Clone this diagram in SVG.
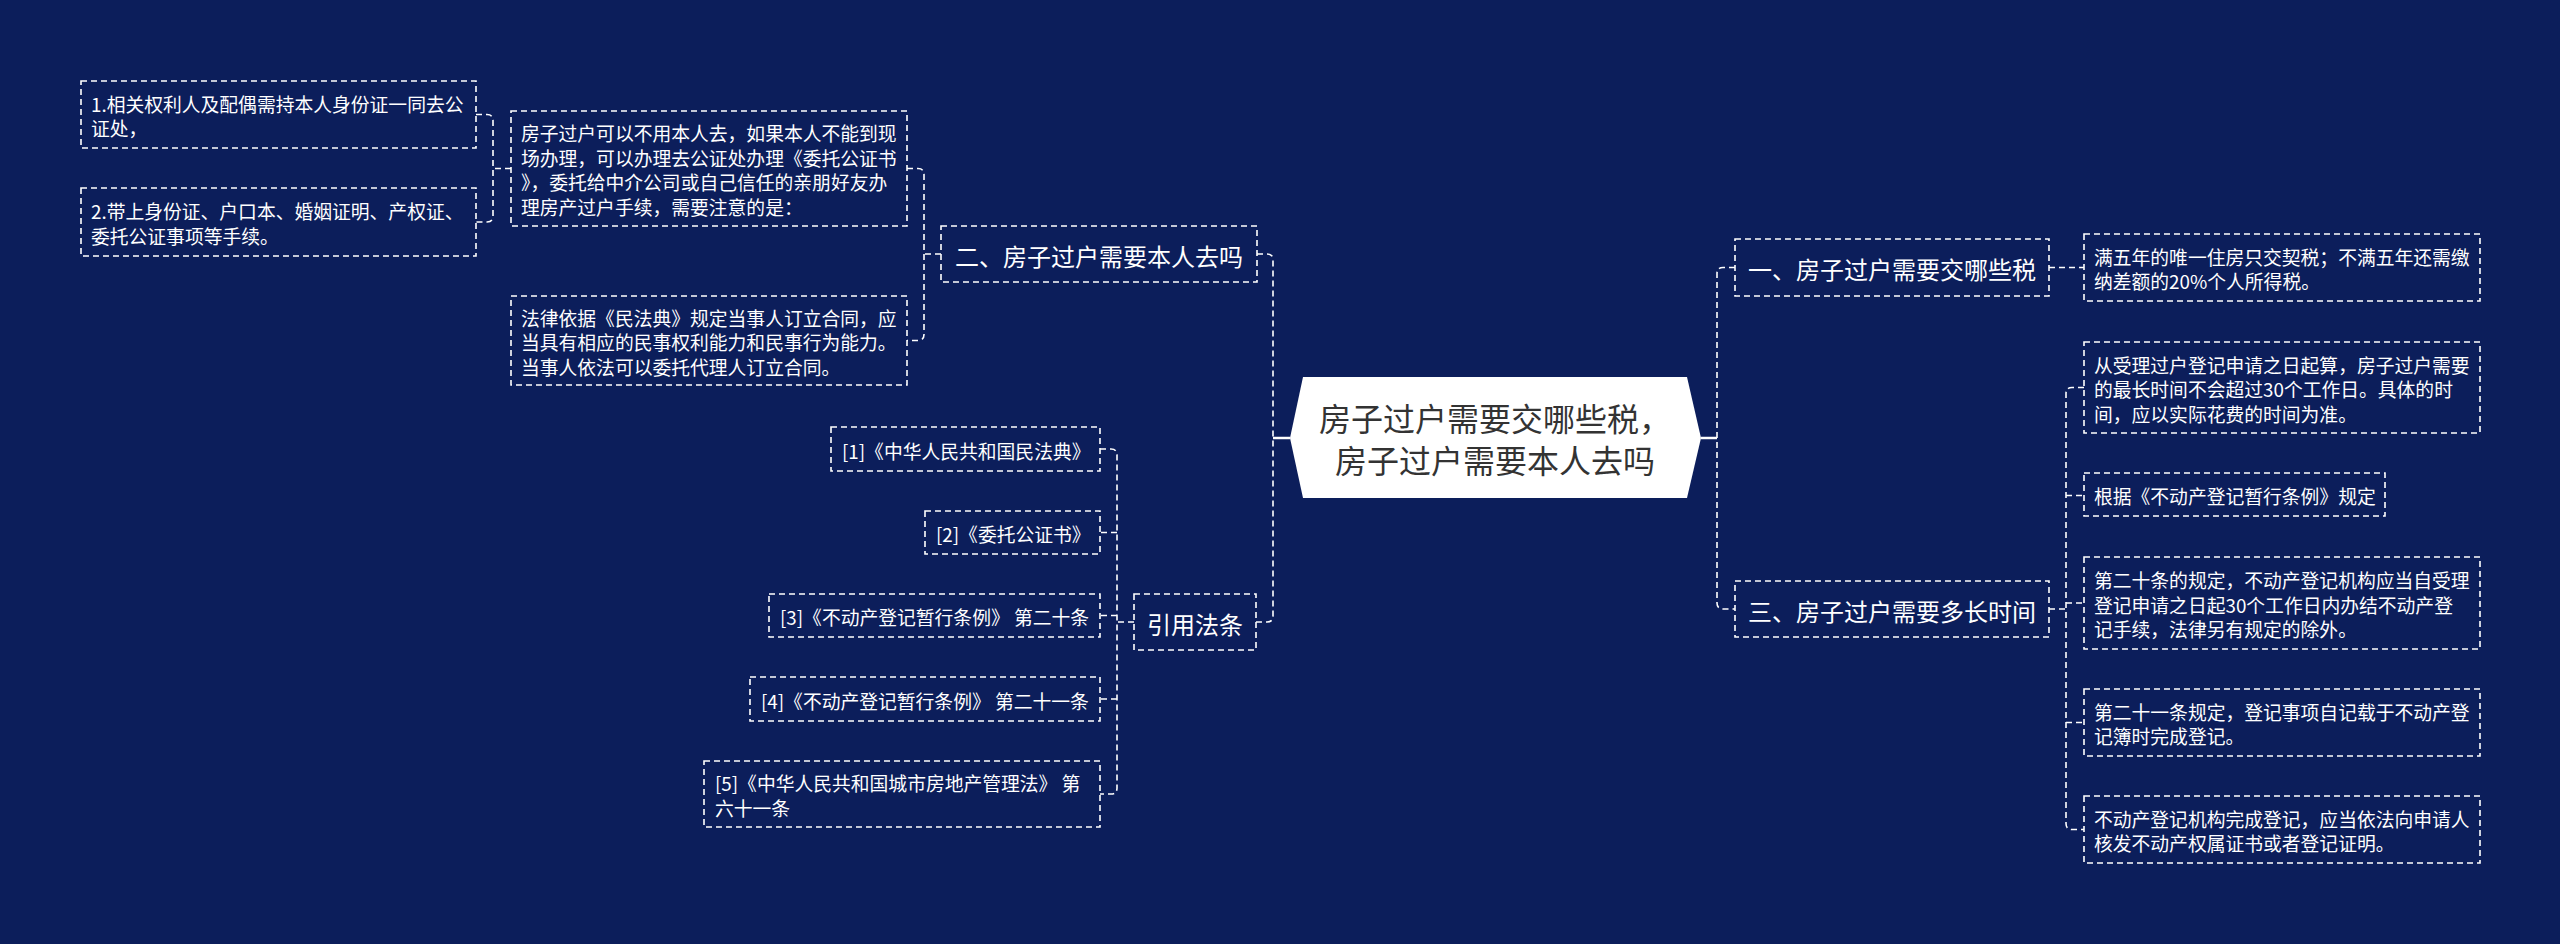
<svg xmlns="http://www.w3.org/2000/svg" width="2560" height="944" viewBox="0 0 2560 944">
<style>
.box{fill:none;stroke:#fff;stroke-width:1.6;stroke-dasharray:6 4}
.cn{fill:none;stroke:#fff;stroke-width:1.6;stroke-dasharray:6 4}
.solid{fill:none;stroke:#fff;stroke-width:2.5}
.t{font-family:"Noto Sans CJK SC","Noto Sans",sans-serif;fill:#fff;font-size:18.8px;dominant-baseline:central}
.t1{font-family:"Noto Sans CJK SC","Noto Sans",sans-serif;fill:#fff;font-size:24px;dominant-baseline:central;text-anchor:middle}
.tc{font-family:"Noto Sans CJK SC","Noto Sans",sans-serif;fill:#333;font-size:32px;dominant-baseline:central;text-anchor:middle}
</style>
<rect width="2560" height="944" fill="#0c1e5b"/>
<g id="connectors">
<path class="solid" d="M1290 438 H1273"/>
<path class="solid" d="M1701 438 H1717"/>
<path class="cn" d="M1257 254 H1267 Q1273 254 1273 260 V616 Q1273 622 1267 622 H1256"/>
<path class="cn" d="M1735 267.5 H1723 Q1717 267.5 1717 273.5 V603 Q1717 609 1723 609 H1735"/>
<path class="cn" d="M2049 267.5 H2084"/>
<path class="cn" d="M2084 387.5 H2072 Q2066 387.5 2066 393.5 V823.5 Q2066 829.5 2072 829.5 H2084"/>
<path class="cn" d="M2066 495.5 H2084 M2066 603 H2084 M2066 722.5 H2084 M2049 609 H2066"/>
<path class="cn" d="M1100 449 H1111 Q1117 449 1117 455 V788 Q1117 794 1111 794 H1100"/>
<path class="cn" d="M1117 532.5 H1100 M1117 615.5 H1100 M1117 699 H1100 M1134 622 H1117"/>
<path class="cn" d="M907 168.5 H918 Q924 168.5 924 174.5 V334.5 Q924 340.5 918 340.5 H907 M941 254 H924"/>
<path class="cn" d="M476 114.5 H487 Q493 114.5 493 120.5 V216 Q493 222 487 222 H476 M511 168.5 H493"/>
</g>
<g id="center">
<polygon points="1303,377 1687,377 1701,438 1687,498 1303,498 1290,438" fill="#fff"/>
<text class="tc" x="1495" y="417">房子过户需要交哪些税，</text>
<text class="tc" x="1495" y="459">房子过户需要本人去吗</text>
</g>
<g id="n-er">
<rect class="box" x="941" y="226" width="316" height="56"/>
<text class="t1" x="1099" y="255">二、房子过户需要本人去吗</text>
</g>
<g id="n-yinyong">
<rect class="box" x="1134" y="594" width="122" height="56"/>
<text class="t1" x="1195" y="623">引用法条</text>
</g>
<g id="n-yi">
<rect class="box" x="1735" y="239" width="314" height="57"/>
<text class="t1" x="1892" y="268.5">一、房子过户需要交哪些税</text>
</g>
<g id="n-san">
<rect class="box" x="1735" y="581" width="314" height="56"/>
<text class="t1" x="1892" y="610">三、房子过户需要多长时间</text>
</g>
<g id="n-a">
<rect class="box" x="511" y="111" width="396" height="115"/>
<text class="t" x="521" y="132.75">房子过户可以不用本人去，如果本人不能到现</text>
<text class="t" x="521" y="157.25">场办理，可以办理去公证处办理《委托公证书</text>
<text class="t" x="521" y="181.75">》，委托给中介公司或自己信任的亲朋好友办</text>
<text class="t" x="521" y="206.25">理房产过户手续，需要注意的是：</text>
</g>
<g id="n-b">
<rect class="box" x="511" y="296" width="396" height="89"/>
<text class="t" x="521" y="317">法律依据《民法典》规定当事人订立合同，应</text>
<text class="t" x="521" y="341.5">当具有相应的民事权利能力和民事行为能力。</text>
<text class="t" x="521" y="366">当事人依法可以委托代理人订立合同。</text>
</g>
<g id="n-a1">
<rect class="box" x="81" y="81" width="395" height="67"/>
<text class="t" x="91" y="103.25">1.相关权利人及配偶需持本人身份证一同去公</text>
<text class="t" x="91" y="127.75">证处，</text>
</g>
<g id="n-a2">
<rect class="box" x="81" y="188" width="395" height="68"/>
<text class="t" x="91" y="210.75">2.带上身份证、户口本、婚姻证明、产权证、</text>
<text class="t" x="91" y="235.25">委托公证事项等手续。</text>
</g>
<g id="n-r1">
<rect class="box" x="831" y="427" width="269" height="44"/>
<text class="t" x="842" y="450">[1]《中华人民共和国民法典》</text>
</g>
<g id="n-r2">
<rect class="box" x="925" y="511" width="175" height="43"/>
<text class="t" x="936" y="533.5">[2]《委托公证书》</text>
</g>
<g id="n-r3">
<rect class="box" x="769" y="594" width="331" height="43"/>
<text class="t" x="780" y="616.5">[3]《不动产登记暂行条例》 第二十条</text>
</g>
<g id="n-r4">
<rect class="box" x="750" y="677" width="350" height="44"/>
<text class="t" x="761" y="700">[4]《不动产登记暂行条例》 第二十一条</text>
</g>
<g id="n-r5">
<rect class="box" x="704" y="761" width="396" height="66"/>
<text class="t" x="715" y="782.75">[5]《中华人民共和国城市房地产管理法》 第</text>
<text class="t" x="715" y="807.25">六十一条</text>
</g>
<g id="n-c1">
<rect class="box" x="2084" y="234" width="396" height="67"/>
<text class="t" x="2094" y="256.25">满五年的唯一住房只交契税；不满五年还需缴</text>
<text class="t" x="2094" y="280.75">纳差额的20%个人所得税。</text>
</g>
<g id="n-d1">
<rect class="box" x="2084" y="342" width="396" height="91"/>
<text class="t" x="2094" y="364">从受理过户登记申请之日起算，房子过户需要</text>
<text class="t" x="2094" y="388.5">的最长时间不会超过30个工作日。具体的时</text>
<text class="t" x="2094" y="413">间，应以实际花费的时间为准。</text>
</g>
<g id="n-d2">
<rect class="box" x="2084" y="473" width="301" height="43"/>
<text class="t" x="2094" y="495.5">根据《不动产登记暂行条例》规定</text>
</g>
<g id="n-d3">
<rect class="box" x="2084" y="557" width="396" height="92"/>
<text class="t" x="2094" y="579.5">第二十条的规定，不动产登记机构应当自受理</text>
<text class="t" x="2094" y="604">登记申请之日起30个工作日内办结不动产登</text>
<text class="t" x="2094" y="628.5">记手续，法律另有规定的除外。</text>
</g>
<g id="n-d4">
<rect class="box" x="2084" y="689" width="396" height="67"/>
<text class="t" x="2094" y="711.25">第二十一条规定，登记事项自记载于不动产登</text>
<text class="t" x="2094" y="735.75">记簿时完成登记。</text>
</g>
<g id="n-d5">
<rect class="box" x="2084" y="796" width="396" height="67"/>
<text class="t" x="2094" y="818.25">不动产登记机构完成登记，应当依法向申请人</text>
<text class="t" x="2094" y="842.75">核发不动产权属证书或者登记证明。</text>
</g>
</svg>
